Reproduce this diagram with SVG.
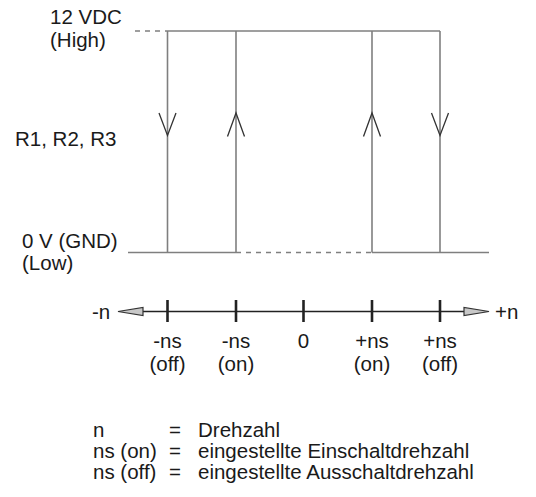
<svg xmlns="http://www.w3.org/2000/svg" width="536" height="497" viewBox="0 0 536 497">
<style>
text{font-family:"Liberation Sans",Arial,sans-serif;font-size:20.5px;fill:#1a1a1a}
.m{text-anchor:middle}
.w{stroke:#7f7f7f;stroke-width:1.6;fill:none}
.d{stroke-dasharray:5 5}
.ah{stroke:#333;stroke-width:1.3;fill:none}
.ax{stroke:#222;stroke-width:1.3;fill:none}
.tk{stroke:#222;stroke-width:2.6}
.ap{fill:#c8c8c8;stroke:#333;stroke-width:1.2}
</style>
<rect width="536" height="497" fill="#fff"/>
<g id="labels-left">
<text x="50" y="24">12 VDC</text>
<text x="50" y="47">(High)</text>
<text x="15" y="145.5">R1, R2, R3</text>
<text x="22" y="248">0 V (GND)</text>
<text x="22" y="270">(Low)</text>
</g>
<g id="connectors">
<line class="w d" x1="135" y1="31" x2="167" y2="31"/>
<line class="w" x1="167" y1="31" x2="440" y2="31"/>
<line class="w" x1="128" y1="252.5" x2="236" y2="252.5"/>
<line class="w d" x1="236" y1="252.5" x2="372" y2="252.5"/>
<line class="w" x1="372" y1="252.5" x2="489" y2="252.5"/>
<line class="w" x1="167.5" y1="31" x2="167.5" y2="252.5"/>
<line class="w" x1="236" y1="31" x2="236" y2="252.5"/>
<line class="w" x1="372" y1="31" x2="372" y2="252.5"/>
<line class="w" x1="440" y1="31" x2="440" y2="252.5"/>
<polyline class="ah" points="159,113 167.5,135.5 176,113"/>
<polyline class="ah" points="227.5,136.5 236,113 244.5,136.5"/>
<polyline class="ah" points="363.5,136.5 372,113 380.5,136.5"/>
<polyline class="ah" points="431.5,113 440,135.5 448.5,113"/>
</g>
<g id="axis">
<line class="ax" x1="143" y1="311.5" x2="464" y2="311.5"/>
<polygon class="ap" points="118,311.5 143,307.5 143,315.5"/>
<polygon class="ap" points="489,311.5 464,307.5 464,315.5"/>
<line class="tk" x1="167.5" y1="300" x2="167.5" y2="322"/>
<line class="tk" x1="236" y1="300" x2="236" y2="322"/>
<line class="tk" x1="303.5" y1="300" x2="303.5" y2="322"/>
<line class="tk" x1="372" y1="300" x2="372" y2="322"/>
<line class="tk" x1="440" y1="300" x2="440" y2="322"/>
<text x="92" y="319">-n</text>
<text x="495" y="319">+n</text>
<text class="m" x="167.5" y="348">-ns</text>
<text class="m" x="167.5" y="371">(off)</text>
<text class="m" x="236" y="348">-ns</text>
<text class="m" x="236" y="371">(on)</text>
<text class="m" x="303.5" y="348">0</text>
<text class="m" x="372" y="348">+ns</text>
<text class="m" x="372" y="371">(on)</text>
<text class="m" x="440" y="348">+ns</text>
<text class="m" x="440" y="371">(off)</text>
</g>
<g id="legend">
<text x="93" y="437">n</text>
<text x="169" y="437">=</text>
<text x="198" y="437">Drehzahl</text>
<text x="93" y="458">ns (on)</text>
<text x="169" y="458">=</text>
<text x="198" y="458">eingestellte Einschaltdrehzahl</text>
<text x="93" y="479">ns (off)</text>
<text x="169" y="479">=</text>
<text x="198" y="479">eingestellte Ausschaltdrehzahl</text>
</g>
</svg>
